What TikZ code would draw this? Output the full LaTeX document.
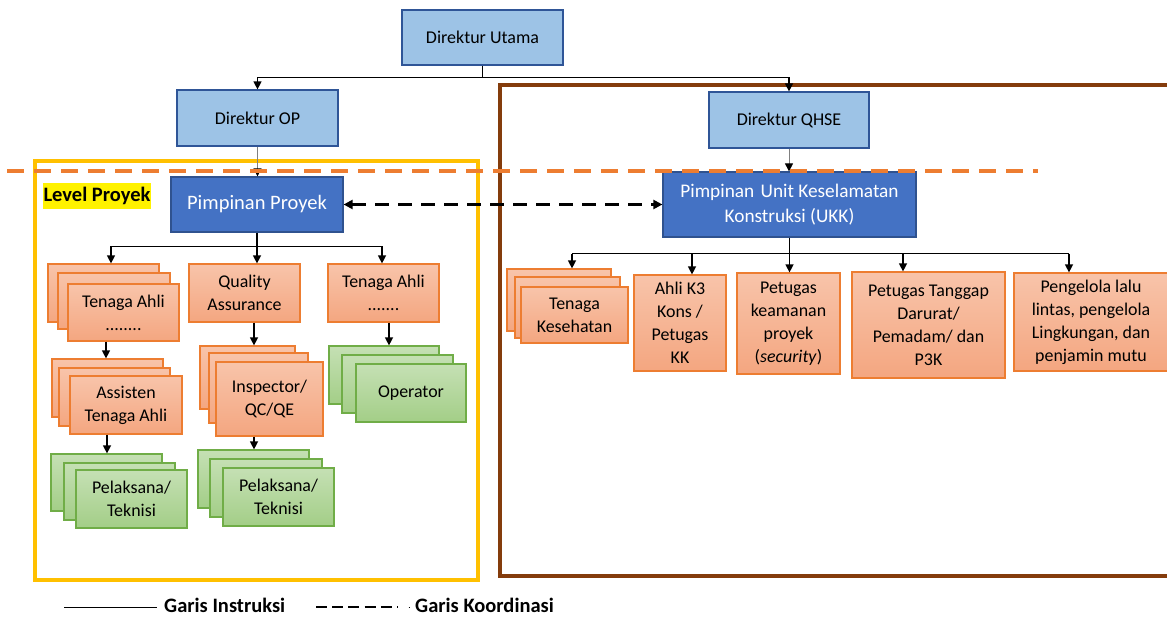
\documentclass[tikz,border=0pt]{standalone}
\usepackage{fontspec}
\setmainfont{Carlito}
\usetikzlibrary{arrows.meta}
\definecolor{oborder}{RGB}{237,125,49}
\definecolor{otop}{RGB}{248,196,170}
\definecolor{obot}{RGB}{244,166,128}
\definecolor{gborder}{RGB}{112,173,71}
\definecolor{gtop}{RGB}{197,224,180}
\definecolor{gbot}{RGB}{163,206,135}
\definecolor{lbfill}{RGB}{157,195,230}
\definecolor{lbborder}{RGB}{47,85,151}
\definecolor{dbfill}{RGB}{68,114,196}
\definecolor{dbborder}{RGB}{47,82,143}
\definecolor{yframe}{RGB}{255,192,0}
\definecolor{bframe}{RGB}{132,60,12}
\definecolor{odash}{RGB}{237,125,49}
\newcommand\bodyfont{\fontsize{17.9}{23}\selectfont}
\newcommand\dirfont{\fontsize{18}{21}\selectfont}
\newcommand\ppfont{\fontsize{20.5}{25}\selectfont}
\newcommand\ukkfont{\fontsize{19.3}{25}\selectfont}
\newcommand\lgfont{\fontsize{20.5}{23}\selectfont\bfseries}
\newcommand\bx[7]{\node[#2, minimum width={(#5)-(#3)}, minimum height={(#6)-(#4)}] (#1) at ({((#3)+(#5))/2},{((#4)+(#6))/2}) {#7};}
\begin{document}
\begin{tikzpicture}[x=1pt,y=-1pt,
  base/.style={inner sep=0pt, align=center, line width=1.2pt, font=\bodyfont},
  obox/.style={base, draw=oborder, top color=otop, bottom color=obot},
  gbox/.style={base, draw=gborder, top color=gtop, bottom color=gbot},
  lbbox/.style={base, draw=lbborder, fill=lbfill, font=\dirfont},
  dbbox/.style={base, draw=dbborder, fill=dbfill, text=white, font=\ppfont},
  line/.style={line width=1.3pt, black},
  arr/.style={line, -{Triangle[length=8pt,width=8pt]}},
  garr/.style={line width=0.8pt, gray, -{Triangle[length=8pt,width=8pt,color=black]}},
  coordline/.style={line width=2.2pt, black, dash pattern=on 14pt off 9pt,
     {Triangle[length=9pt,width=9pt]}-{Triangle[length=9pt,width=9pt]}},
  frame/.style={line width=3.5pt}
]
\useasboundingbox (0,0) rectangle (1167,620);
\clip (0,0) rectangle (1167,620);

% frames
\draw[frame, draw=yframe] (35,161) rectangle (478,580);
\draw[frame, draw=bframe] (500,85) rectangle (1185,576);

% top level
\bx{utama}{lbbox}{402}{10}{563}{65}{Direktur Utama}
\bx{dop}{lbbox}{177}{90}{338}{146}{Direktur OP}
\bx{dqhse}{lbbox}{709}{92}{869}{148}{Direktur QHSE}
\bx{pp}{dbbox}{171}{177}{343}{232}{Pimpinan Proyek}
\bx{ukk}{dbbox, font=\ukkfont}{663}{172}{916}{237}{Pimpinan\hspace{2pt} Unit Keselamatan\\Konstruksi (UKK)}

\node[font=\lgfont, fill=yellow, inner xsep=0.5pt, inner ysep=0pt, minimum height=26] (lvl) at (97,196) {Level Proyek};

% left stacks
\bx{ta1a}{obox}{48}{264}{159}{322}{}
\bx{ta1b}{obox}{58}{273}{170}{329}{}
\bx{ta1c}{obox}{68}{284}{179}{341}{Tenaga Ahli\\........}
\bx{qa}{obox}{189}{264}{300}{322}{Quality\\Assurance}
\bx{ta2}{obox}{328}{264}{439}{322}{Tenaga Ahli\\.......}

\bx{as1a}{obox}{52}{359}{163}{417}{}
\bx{as1b}{obox}{59}{368}{170}{426}{}
\bx{as1c}{obox}{70}{376}{182}{434}{Assisten\\Tenaga Ahli}

\bx{insa}{obox}{200}{346}{295}{409}{}
\bx{insb}{obox}{209}{353}{308}{423}{}
\bx{insc}{obox}{216}{362}{323}{436}{Inspector/\\QC/QE}

\bx{opa}{gbox}{329}{346}{439}{404}{}
\bx{opb}{gbox}{342}{355}{453}{413}{}
\bx{opc}{gbox}{356}{364}{466}{422}{Operator}

\bx{pl1a}{gbox}{51}{454}{162}{511}{}
\bx{pl1b}{gbox}{64}{463}{175}{520}{}
\bx{pl1c}{gbox}{76}{470}{187}{528}{Pelaksana/\\Teknisi}

\bx{pl2a}{gbox}{198}{450}{309}{508}{}
\bx{pl2b}{gbox}{210}{459}{322}{517}{}
\bx{pl2c}{gbox}{223}{468}{334}{526}{Pelaksana/\\Teknisi}

% right side
\bx{tka}{obox}{507}{269}{611}{331}{}
\bx{tkb}{obox}{515}{277}{620}{338}{}
\bx{tkc}{obox}{521}{287}{628}{343}{Tenaga\\Kesehatan}
\bx{ak3}{obox}{634}{275}{726}{371}{Ahli K3\\Kons /\\Petugas\\KK}
\bx{pk}{obox}{737}{273}{840}{374}{Petugas\\keamanan\\proyek\\(\textit{security})}
\bx{ptd}{obox}{852}{272}{1005}{378}{Petugas Tanggap\\Darurat/\\Pemadam/ dan\\P3K}
\bx{pgl}{obox}{1014}{273}{1168}{371}{Pengelola lalu\\lintas, pengelola\\Lingkungan, dan\\penjamin mutu}

% connectors top
\path (utama.south) ++(0,12) coordinate (j0);
\draw[line] (utama.south) -- (j0);
\draw[arr] (j0) -| (dop.north);
\draw[arr] (j0) -| (dqhse.north);
\draw[garr] (dop.south) -- (dop.south |- pp.north);
\draw[garr] (dqhse.south) -- (dqhse.south |- ukk.north);

% coordination
\draw[coordline] (pp.east) -- (ukk.west);

% PP children
\path (pp.south) ++(0,13.6) coordinate (jp);
\path (jp) ++(-146,0) coordinate (bL);
\path (jp) ++(125,0) coordinate (bR);
\draw[line] (pp.south) -- (jp);
\draw[line] (bL) -- (bR);
\draw[arr] (bL) -- (bL |- ta1a.north);
\draw[arr] (jp) -- (jp |- qa.north);
\draw[arr] (bR) -- (bR |- ta2.north);

\path (ta1c.south) ++(-17.5,0) coordinate (c1);
\draw[arr] (c1) -- (c1 |- as1a.north);
\path (as1c.south) ++(-19,0) coordinate (c2);
\draw[arr] (c2) -- (c2 |- pl1a.north);
\path (qa.south) ++(9.5,0) coordinate (c3);
\draw[arr] (c3) -- (c3 |- insa.north);
\path (insc.south) ++(-15.5,0) coordinate (c4);
\draw[arr] (c4) -- (c4 |- pl2a.north);
\path (ta2.south) ++(5.5,0) coordinate (c5);
\draw[arr] (c5) -- (c5 |- opa.north);

% UKK children
\path (ukk.south) ++(0,16) coordinate (ju);
\path (ju) ++(-217.5,0) coordinate (uL);
\path (ju) ++(279.5,0) coordinate (uR);
\path (ju) ++(-97.5,0) coordinate (u2);
\path (ju) ++(113.5,0) coordinate (u4);
\draw[line] (uL) -- (uR);
\draw[arr] (ukk.south) -- (ukk.south |- pk.north);
\draw[arr] (uL) -- (uL |- tka.north);
\draw[arr] (u2) -- (u2 |- ak3.north);
\draw[arr] (u4) -- (u4 |- ptd.north);
\draw[arr] (uR) -- (uR |- pgl.north);

% level line
\coordinate (d1) at (7,171);
\coordinate (d2) at (1038,171);
\draw[line width=4.5pt, draw=odash, dash pattern=on 17pt off 10pt] (d1) -- (d2);

% legend
\node[font=\lgfont, anchor=west, inner sep=0pt] (lg1) at (164,605) {Garis Instruksi};
\node[font=\lgfont, anchor=west, inner sep=0pt] (lg2) at (415,605) {Garis Koordinasi};
\coordinate (l1a) at (64,607);
\coordinate (l1b) at (157,607);
\draw[line width=1pt] (l1a) -- (l1b);
\coordinate (l2a) at (316,607);
\coordinate (l2b) at (398,607);
\coordinate (l2c) at (408.5,607);
\coordinate (l2d) at (410,607);
\draw[line width=1.3pt, dash pattern=on 11pt off 5.2pt] (l2a) -- (l2b);
\draw[line width=1pt] (l2c) -- (l2d);
\end{tikzpicture}
\end{document}
